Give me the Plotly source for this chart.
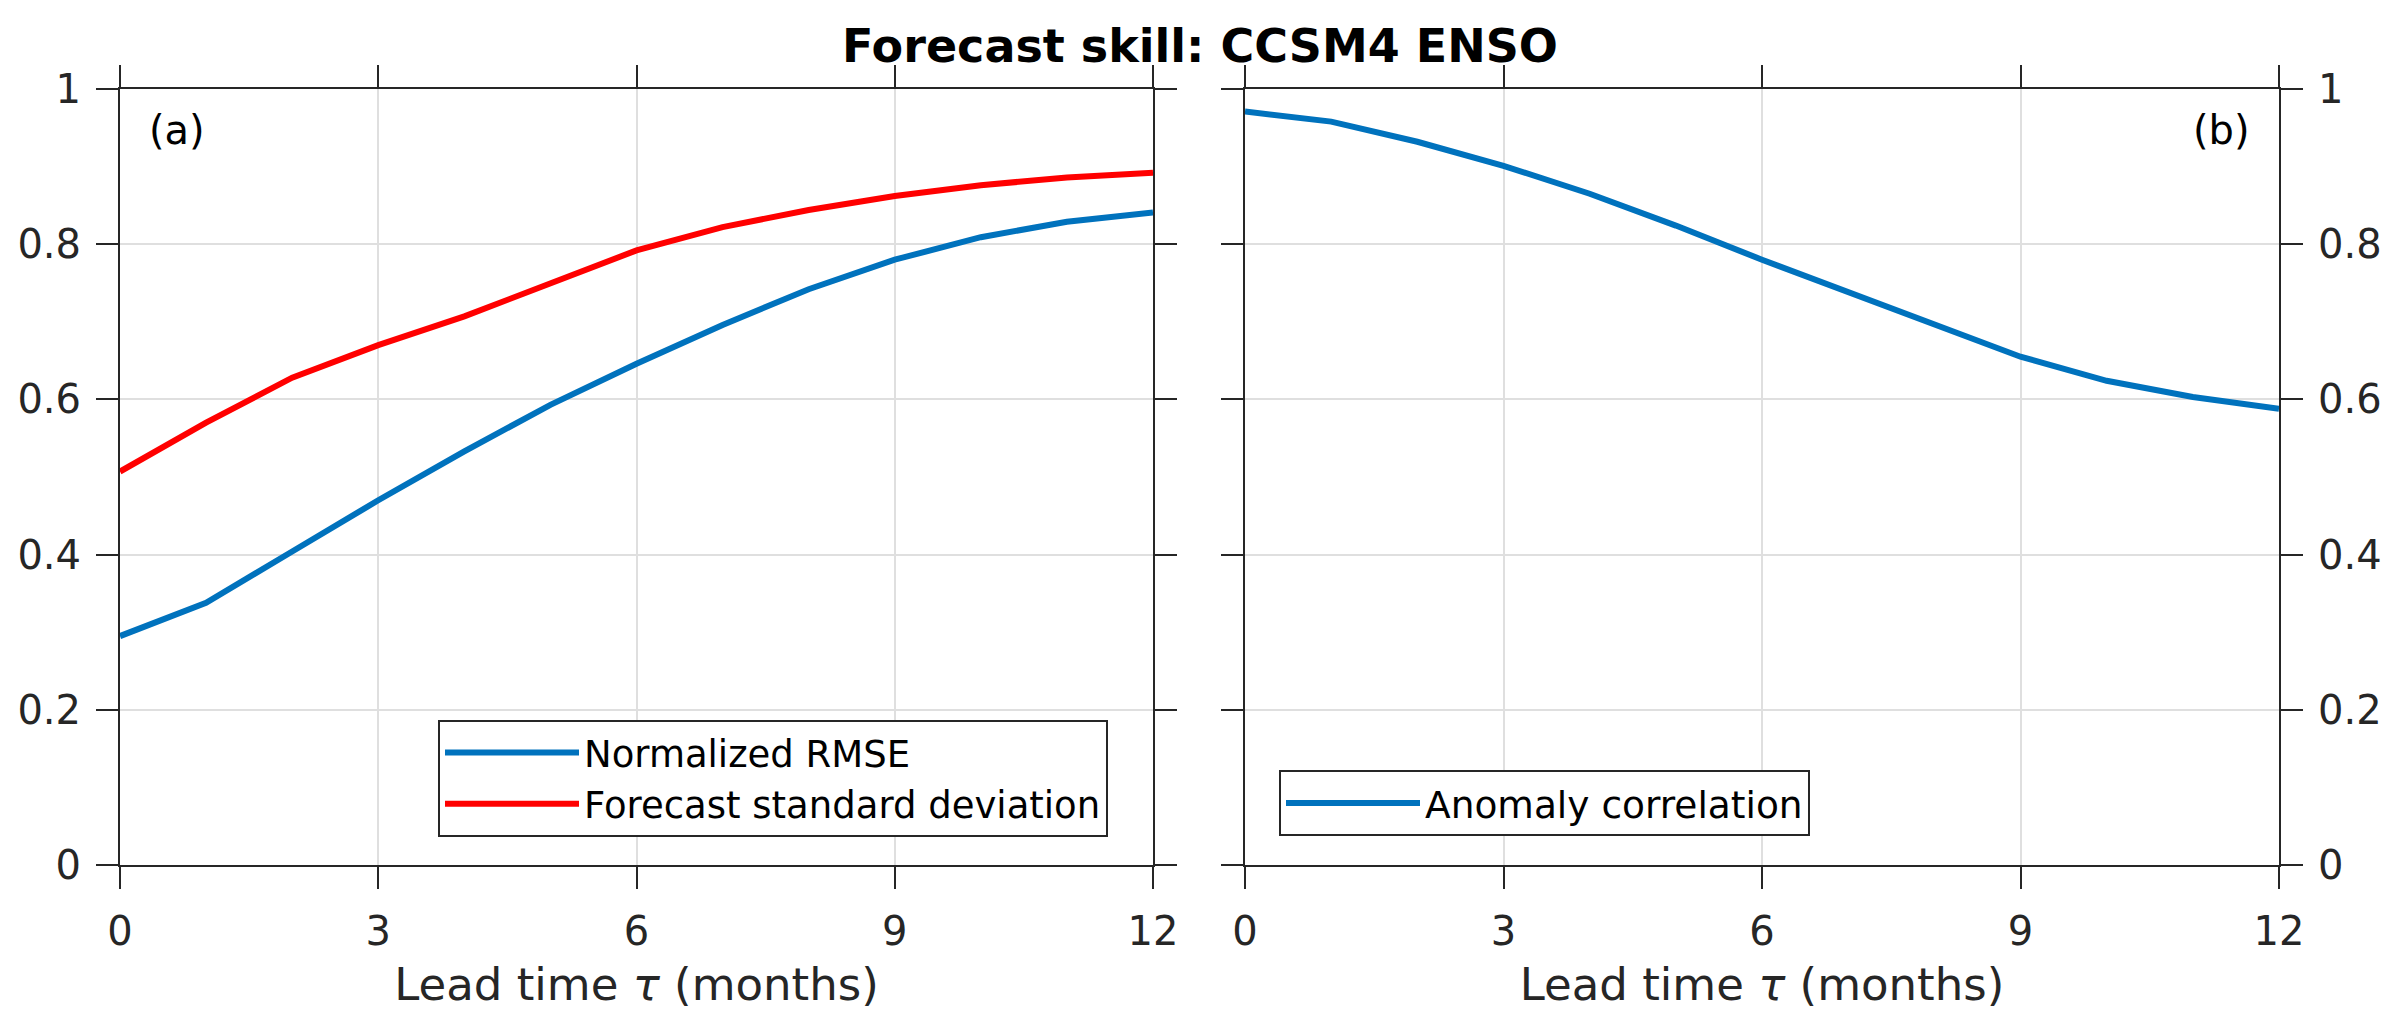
import plotly.graph_objects as go

# ---- data ----
lead_months = [0, 1, 2, 3, 4, 5, 6, 7, 8, 9, 10, 11, 12]
normalized_rmse = [0.295, 0.338, 0.404, 0.470, 0.533, 0.593, 0.646, 0.696, 0.742, 0.780, 0.809, 0.829, 0.841]
forecast_std = [0.507, 0.570, 0.628, 0.670, 0.707, 0.749, 0.792, 0.822, 0.844, 0.862, 0.876, 0.886, 0.892]
anomaly_corr = [0.971, 0.958, 0.932, 0.901, 0.865, 0.824, 0.780, 0.739, 0.697, 0.655, 0.624, 0.603, 0.588]
x_ticks = [0, 3, 6, 9, 12]
y_ticks = [0, 0.2, 0.4, 0.6, 0.8, 1]

# page body has an 8px margin; the figure is sized/positioned to compensate
OFF = 8
W, H = 2400 - OFF, 1016 - OFF
BLUE = "#0072BD"
RED = "#FF0000"
AX = "#262626"
GRID = "#DFDFDF"
FONT = "DejaVu Sans"


def px(x):
    return (x - OFF) / W


def py(y):
    return 1 - (y - OFF) / H


fig = go.Figure()
fig.add_trace(go.Scatter(x=lead_months, y=normalized_rmse, mode="lines", name="Normalized RMSE",
                         line=dict(color=BLUE, width=6), xaxis="x", yaxis="y", legend="legend"))
fig.add_trace(go.Scatter(x=lead_months, y=forecast_std, mode="lines", name="Forecast standard deviation",
                         line=dict(color=RED, width=6), xaxis="x", yaxis="y", legend="legend"))
fig.add_trace(go.Scatter(x=lead_months, y=anomaly_corr, mode="lines", name="Anomaly correlation",
                         line=dict(color=BLUE, width=6), xaxis="x2", yaxis="y2", legend="legend2"))


def xaxis(domain, anchor):
    return dict(domain=domain, anchor=anchor, range=[0, 12], tickvals=x_ticks,
                showline=True, linecolor=AX, linewidth=2, mirror="allticks",
                ticks="outside", ticklen=22, tickwidth=2, tickcolor=AX,
                showgrid=True, gridcolor=GRID, gridwidth=2, zeroline=False,
                tickfont=dict(family=FONT, size=40, color=AX), ticklabelstandoff=8,
                title=dict(text="Lead time <i>τ</i> (months)", font=dict(family=FONT, size=45, color=AX),
                           standoff=15),
                automargin=False)


def yaxis(domain, anchor, side):
    return dict(domain=domain, anchor=anchor, range=[0, 1], tickvals=y_ticks, side=side,
                showline=True, linecolor=AX, linewidth=2, mirror="allticks",
                ticks="outside", ticklen=22, tickwidth=2, tickcolor=AX,
                showgrid=True, gridcolor=GRID, gridwidth=2, zeroline=False,
                tickfont=dict(family=FONT, size=40, color=AX), ticklabelstandoff=7,
                automargin=False)


ydom = [py(865), py(89)]
fig.update_layout(
    width=W, height=H,
    margin=dict(l=0, r=0, t=0, b=0),
    paper_bgcolor="white", plot_bgcolor="white",
    xaxis=xaxis([px(120), px(1153)], "y"),
    yaxis=yaxis(ydom, "x", "left"),
    xaxis2=xaxis([px(1245), px(2279)], "y2"),
    yaxis2=yaxis(ydom, "x2", "right"),
    title=dict(text="<b>Forecast skill: CCSM4 ENSO</b>", x=px(1200), xanchor="center",
               y=py(46), yanchor="middle", font=dict(family=FONT, size=46, color="black")),
    legend=dict(x=px(438), y=py(837), xanchor="left", yanchor="bottom",
                bgcolor="white", bordercolor=AX, borderwidth=2,
                font=dict(family=FONT, size=37, color="black"), itemwidth=134),
    legend2=dict(x=px(1279), y=py(836), xanchor="left", yanchor="bottom",
                 bgcolor="white", bordercolor=AX, borderwidth=2,
                 font=dict(family=FONT, size=37.5, color="black"), itemwidth=134),
    annotations=[
        dict(text="(a)", x=px(147), y=py(130), xref="paper", yref="paper",
             xanchor="left", yanchor="middle", showarrow=False,
             font=dict(family=FONT, size=40, color="black")),
        dict(text="(b)", x=px(2252), y=py(130), xref="paper", yref="paper",
             xanchor="right", yanchor="middle", showarrow=False,
             font=dict(family=FONT, size=40, color="black")),
    ],
)

fig.write_html("out.html")
